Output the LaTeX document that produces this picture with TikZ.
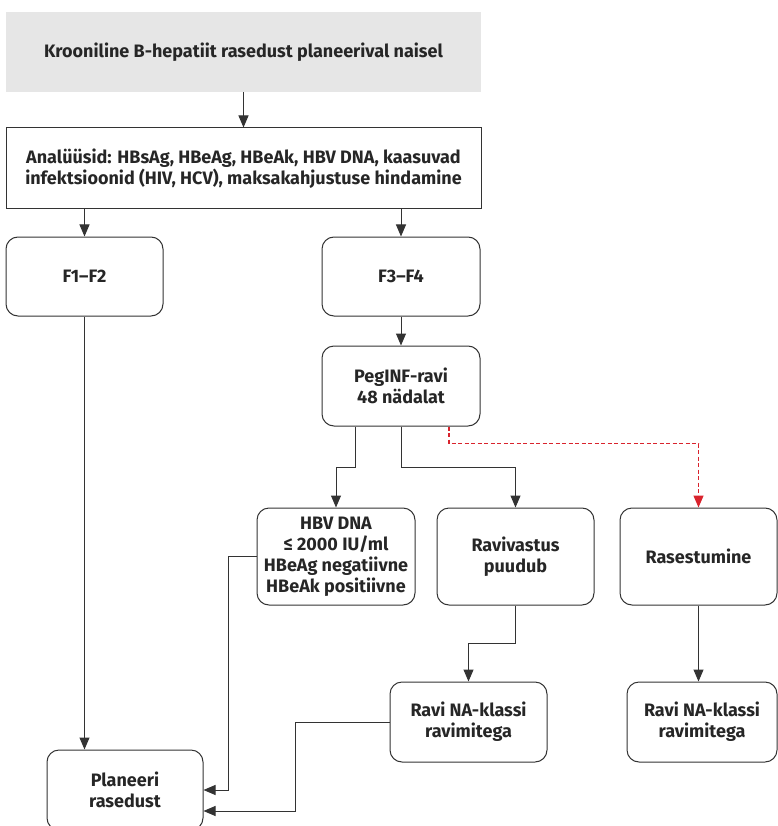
\documentclass[tikz,border=0pt]{standalone}
\usepackage{fontspec}
\setmainfont{Fira Sans}
\usepackage{xcolor}
\usepackage{tikz}
\usetikzlibrary{positioning,arrows.meta}
\definecolor{boxline}{HTML}{333333}
\definecolor{headfill}{HTML}{E6E6E6}
\definecolor{redline}{HTML}{D9232D}

\begin{document}
\begin{tikzpicture}[
  x=1pt, y=-1pt,
  every node/.style={align=center, font=\fontsize{18}{21}\selectfont\bfseries, text=black!85},
  headbox/.style={fill=headfill, minimum width=475pt, minimum height=80pt},
  sqbox/.style={draw=boxline, line width=1pt, minimum width=475pt, minimum height=81pt},
  rbox/.style={draw=boxline, line width=1pt, rounded corners=12pt, minimum width=157pt, minimum height=79pt},
  tallbox/.style={rbox, minimum height=97pt},
  arr/.style={draw=boxline, line width=1pt, -{Triangle[length=12pt,width=10pt]}},
  redarr/.style={draw=redline, line width=1.4pt, dash pattern=on 4pt off 2.5pt, -{Triangle[length=12pt,width=10pt]}, redline}
]
\useasboundingbox (0,0) rectangle (777,826);

% header and tests
\node[headbox] (title) at (243.5,52) {Krooniline B-hepatiit rasedust planeerival naisel};
\node[sqbox] (tests) at (243.5,168.5) {Analüüsid: HBsAg, HBeAg, HBeAk, HBV DNA, kaasuvad\\infektsioonid (HIV, HCV), maksakahjustuse hindamine};

% fibrosis stages
\node[rbox] (f12) at (84.5,276.5) {F1–F2};
\node[rbox, minimum width=158pt] (f34) at (401,276.5) {F3–F4};
\node[rbox, minimum width=158pt, minimum height=80pt] (peg) at (401,386) {PegINF-ravi\\48 nädalat};

% outcomes
\node[tallbox, minimum width=158pt, inner sep=1pt] (hbv) at (336,556.5) {HBV DNA\\≤ 2000 IU/ml\\HBeAg negatiivne\\HBeAk positiivne};
\node[tallbox] (noresp) at (515.5,556.5) {Ravivastus\\puudub};
\node[tallbox] (preg) at (698.5,556.5) {Rasestumine};
\node[rbox, minimum height=80pt] (na1) at (468.5,722) {Ravi NA-klassi\\ravimitega};
\node[rbox, minimum width=150pt, minimum height=80pt] (na2) at (702,722) {Ravi NA-klassi\\ravimitega};
\node[rbox, minimum width=156pt, minimum height=80pt] (plan) at (125,790) {Planeeri\\rasedust};

% connectors
\draw[arr] (title) -- (tests);
\draw[arr] (tests.south -| f12.north) -- (f12.north);
\draw[arr] (tests.south -| f34.north) -- (f34.north);
\draw[arr] (f34) -- (peg);
\draw[arr] ([xshift=-46pt]peg.south) -- ++(0,41) -| (hbv.north);
\draw[arr] (peg.south) -- ++(0,41) -| (noresp.north);
\draw[redarr] ([xshift=48pt]peg.south) -- ++(0,17) -| (preg.north);
\draw[arr] (noresp.south) -- ++(0,38) -| (na1.north);
\draw[arr] (preg.south) -- (preg.south |- na2.north);
\draw[arr] (f12.south) -- (f12.south |- plan.north);
\draw[arr] (hbv.west) -- ++(-28,0) |- (plan.east);
\draw[arr] (na1.west) -- ++(-94,0) |- ([yshift=-21pt]plan.east);
\end{tikzpicture}
\end{document}
